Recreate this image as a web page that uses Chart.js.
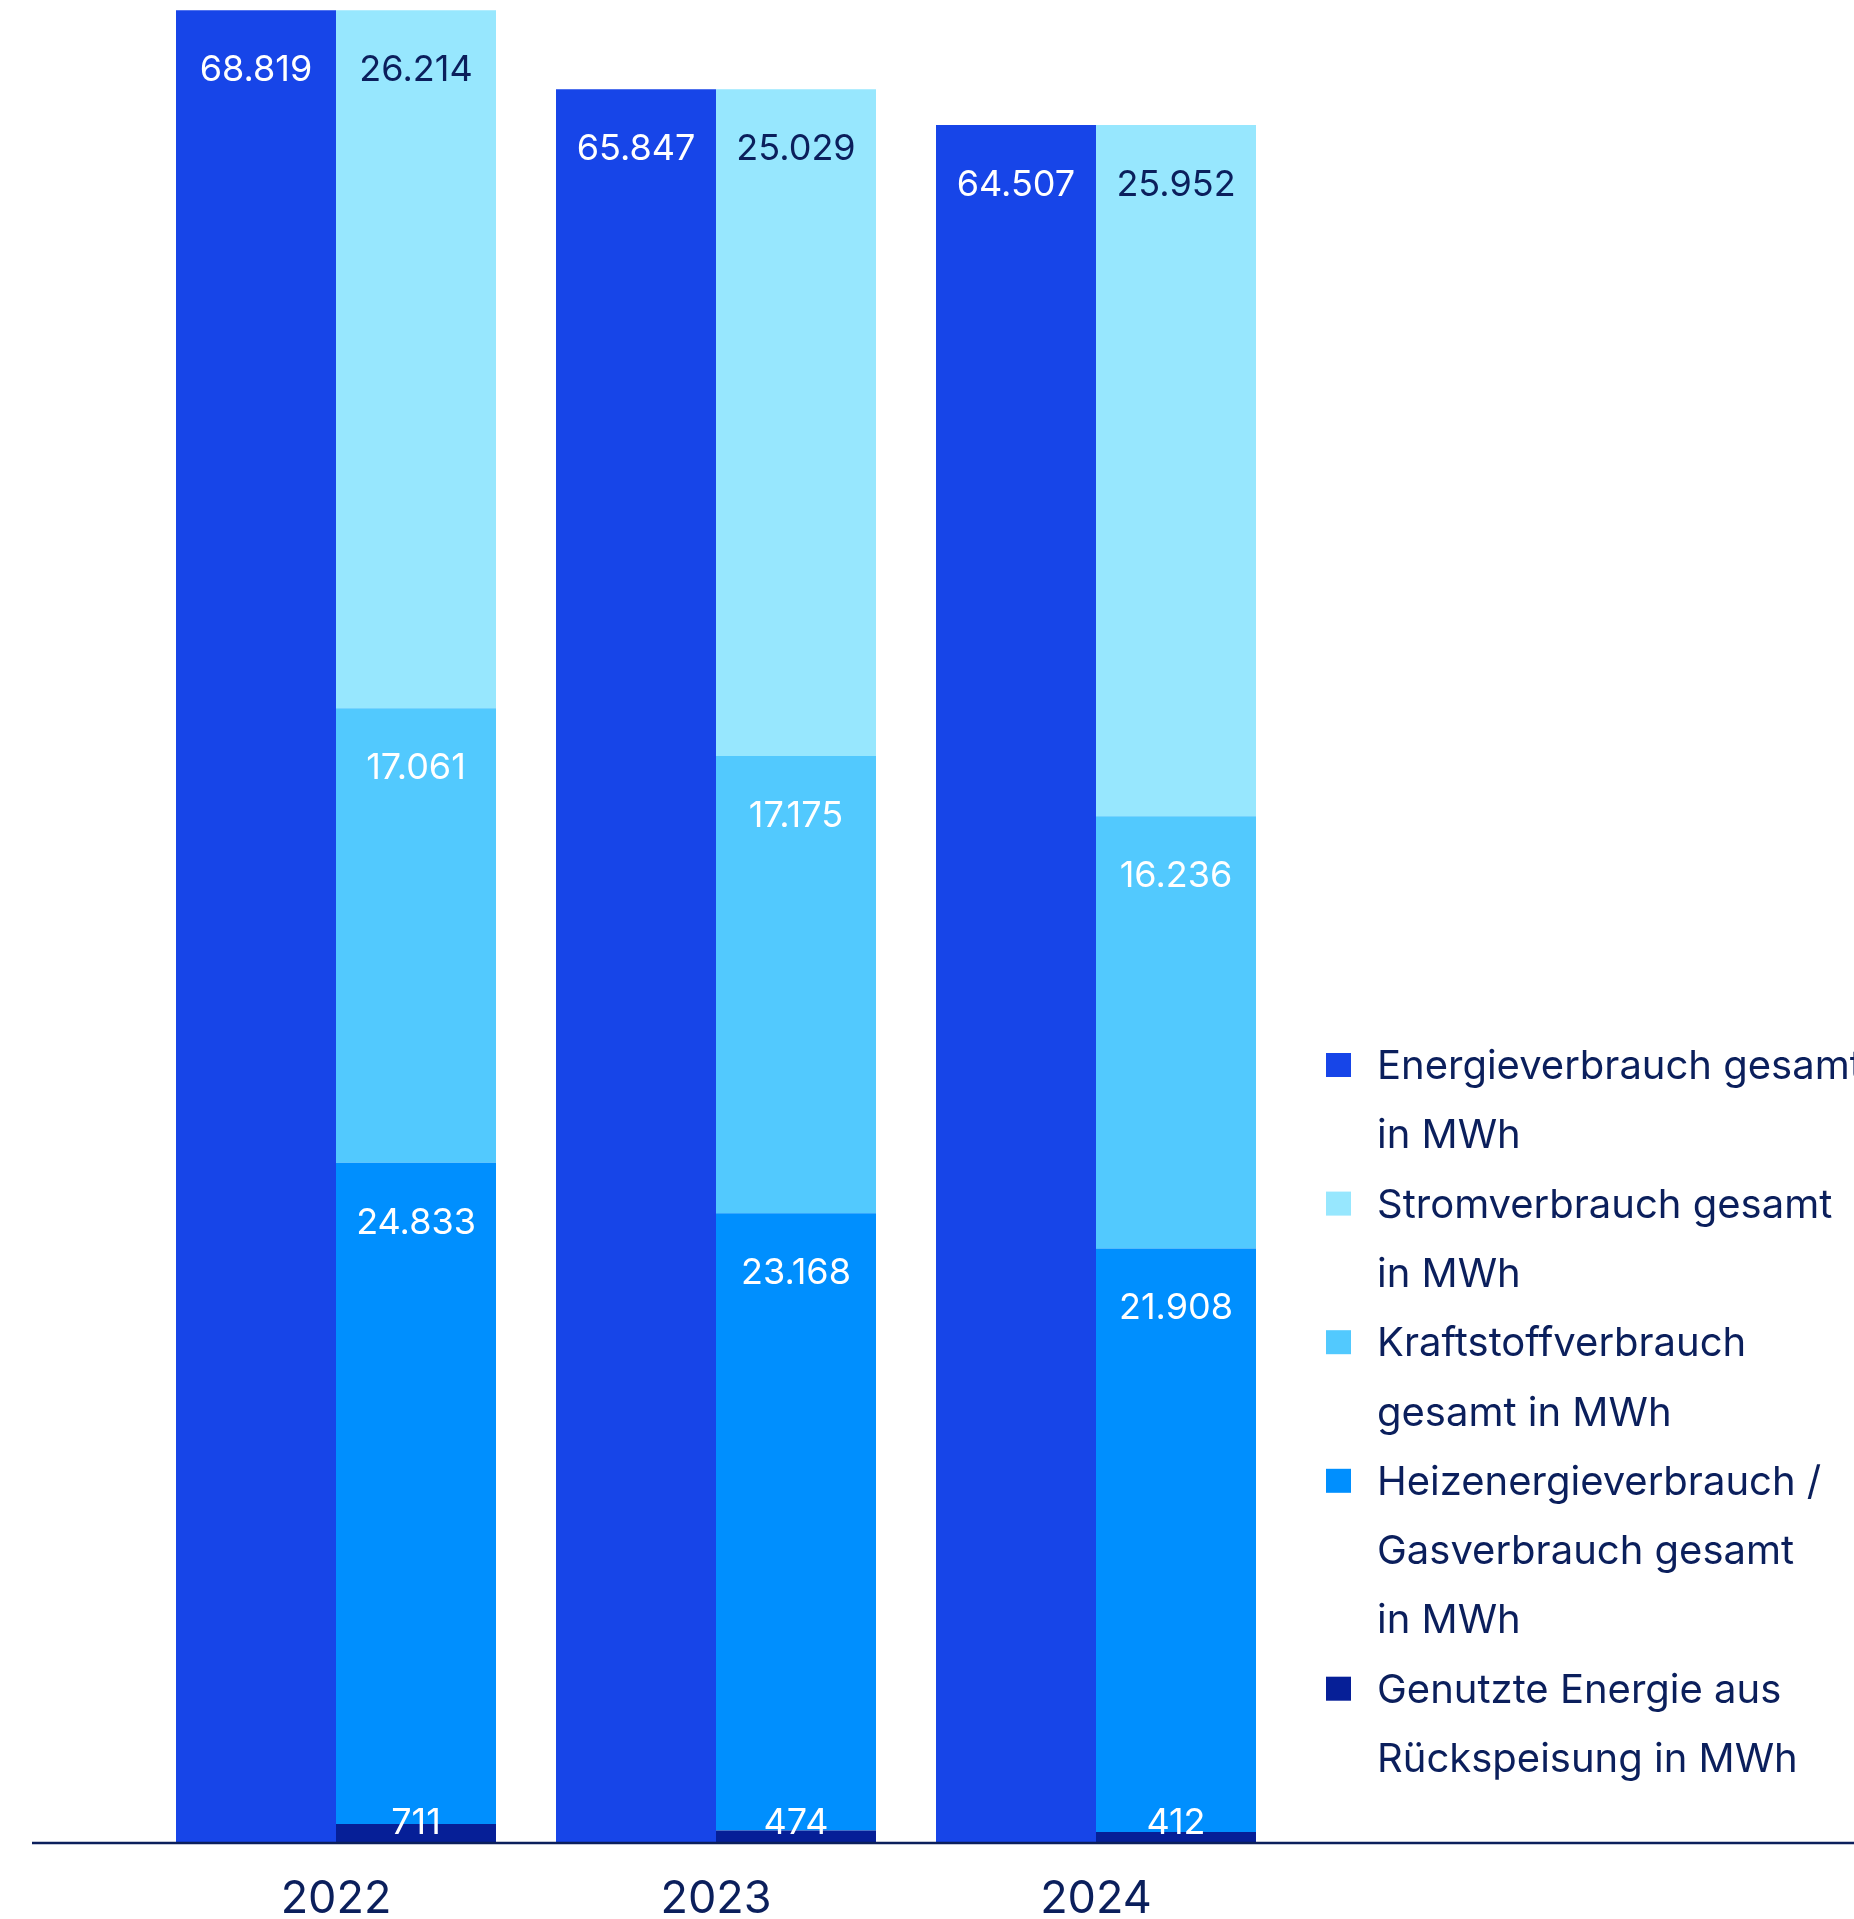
<!DOCTYPE html>
<html lang="de">
<head>
<meta charset="utf-8">
<title>Energieverbrauch</title>
<script src="https://cdn.jsdelivr.net/npm/chart.js@4.4.1/dist/chart.umd.min.js"></script>
<style>
  html, body { margin: 0; padding: 0; background: #fff; overflow: hidden; }
  #wrap { width: 1854px; height: 1919px; position: relative; }
</style>
</head>
<body>
<div id="wrap"><canvas id="energyChart" width="1854" height="1919"></canvas></div>
<script>
// Daten
const years = ['2022', '2023', '2024'];
const energieGesamt = [68819, 65847, 64507];
const stromGesamt = [26214, 25029, 25952];
const kraftstoffGesamt = [17061, 17175, 16236];
const heizenergieGesamt = [24833, 23168, 21908];
const rueckspeisung = [711, 474, 412];

const navy = '#0b1f5c';
const colors = {
    energie: '#1745e8',
    strom: '#97e7fe',
    kraft: '#52c9fe',
    heiz: '#008ffe',
    rueck: '#061f97'
};

// Legende (Reihenfolge wie im Original)
const legendItems = [
    { color: colors.energie, lines: ['Energieverbrauch gesamt', 'in MWh'] },
    { color: colors.strom, lines: ['Stromverbrauch gesamt', 'in MWh'] },
    { color: colors.kraft, lines: ['Kraftstoffverbrauch', 'gesamt in MWh'] },
    { color: colors.heiz, lines: ['Heizenergieverbrauch /', 'Gasverbrauch gesamt', 'in MWh'] },
    { color: colors.rueck, lines: ['Genutzte Energie aus', 'Rückspeisung in MWh'] }
];

const fmt = v => v.toLocaleString('de-DE');

// Werte in die Balken schreiben
const valueLabels = {
    id: 'valueLabels',
    afterDatasetsDraw(chart) {
        const ctx = chart.ctx;
        const base = chart.scales.y.getPixelForValue(0);
        ctx.save();
        ctx.font = '400 36px Inter, "Noto Sans", sans-serif';
        ctx.textAlign = 'center';
        ctx.textBaseline = 'middle';
        chart.data.datasets.forEach((ds, di) => {
            const meta = chart.getDatasetMeta(di);
            meta.data.forEach((bar, i) => {
                const h = bar.base - bar.y;
                const y = h < 80 ? base - 20 : bar.y + 60;
                ctx.fillStyle = ds.labelColor;
                ctx.fillText(fmt(ds.data[i]), bar.x, y);
            });
        });
        ctx.restore();
    },
    afterDraw(chart) {
        const ctx = chart.ctx;
        const base = chart.scales.y.getPixelForValue(0);
        ctx.save();
        // Grundlinie über die ganze Breite
        ctx.strokeStyle = navy;
        ctx.lineWidth = 2.5;
        ctx.beginPath();
        ctx.moveTo(32, base);
        ctx.lineTo(chart.width, base);
        ctx.stroke();

        // Legende
        ctx.font = '400 40px Inter, "Noto Sans", sans-serif';
        ctx.textBaseline = 'middle';
        ctx.textAlign = 'left';
        let y = 1067;
        const step = 69.3;
        legendItems.forEach(item => {
            ctx.fillStyle = item.color;
            ctx.fillRect(1326, y - 14, 25, 24);
            ctx.fillStyle = navy;
            item.lines.forEach(line => {
                ctx.fillText(line, 1377, y);
                y += step;
            });
        });
        ctx.restore();
    }
};

new Chart(document.getElementById('energyChart'), {
    type: 'bar',
    data: {
        labels: years,
        datasets: [
            { label: 'Energieverbrauch gesamt in MWh', data: energieGesamt, backgroundColor: colors.energie, stack: 'gesamt', labelColor: '#ffffff' },
            { label: 'Genutzte Energie aus Rückspeisung in MWh', data: rueckspeisung, backgroundColor: colors.rueck, stack: 'teile', labelColor: '#ffffff' },
            { label: 'Heizenergieverbrauch / Gasverbrauch gesamt in MWh', data: heizenergieGesamt, backgroundColor: colors.heiz, stack: 'teile', labelColor: '#ffffff' },
            { label: 'Kraftstoffverbrauch gesamt in MWh', data: kraftstoffGesamt, backgroundColor: colors.kraft, stack: 'teile', labelColor: '#ffffff' },
            { label: 'Stromverbrauch gesamt in MWh', data: stromGesamt, backgroundColor: colors.strom, stack: 'teile', labelColor: navy }
        ]
    },
    options: {
        responsive: false,
        animation: false,
        devicePixelRatio: 1,
        categoryPercentage: 320 / 380,
        barPercentage: 1,
        layout: { padding: { left: 146, right: 568, top: 0, bottom: 0 } },
        plugins: {
            legend: { display: false },
            tooltip: { enabled: false }
        },
        scales: {
            x: {
                stacked: true,
                grid: { display: false },
                border: { display: false },
                ticks: {
                    color: navy,
                    padding: 26,
                    font: { family: 'Inter, "Noto Sans", sans-serif', size: 45, lineHeight: 1 }
                },
                afterFit(scale) { scale.height = 76; }
            },
            y: {
                display: false,
                stacked: true,
                min: 0,
                max: 69200
            }
        }
    },
    plugins: [valueLabels]
});
</script>
</body>
</html>
